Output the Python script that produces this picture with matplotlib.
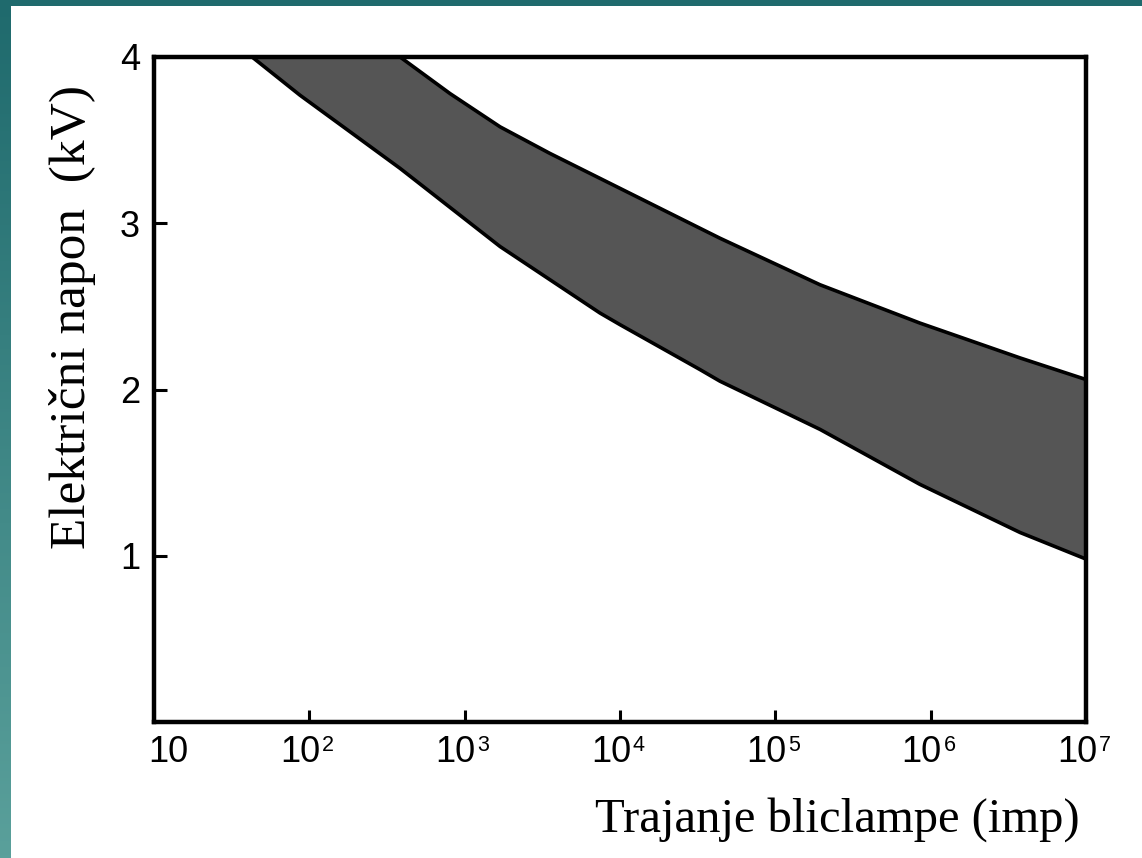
import numpy as np
import matplotlib
matplotlib.use('Agg')
import matplotlib.pyplot as plt
from matplotlib.patches import Rectangle
from matplotlib.colors import LinearSegmentedColormap
from matplotlib import font_manager
from matplotlib.ticker import NullLocator
from matplotlib.transforms import blended_transform_factory

# ---- data ----
upper_x = [3.84e2, 8.05e2, 1.69e3, 3.54e3, 7.43e3, 3.27e4, 4.40e4, 1.94e5, 8.50e5, 3.76e6, 1.0e7]
upper_y = [4.00, 3.78, 3.58, 3.42, 3.27, 2.97, 2.91, 2.63, 2.40, 2.19, 2.06]
lower_x = [4.28e1, 8.71e1, 1.83e2, 3.84e2, 1.69e3, 7.43e3, 1.0e4, 3.27e4, 4.40e4, 1.94e5, 8.50e5, 3.76e6, 1.0e7]
lower_y = [4.00, 3.77, 3.55, 3.33, 2.86, 2.46, 2.39, 2.12, 2.05, 1.76, 1.43, 1.14, 0.98]

xtick_vals = [1e1, 1e2, 1e3, 1e4, 1e5, 1e6, 1e7]
xtick_exps = [1, 2, 3, 4, 5, 6, 7]
ytick_vals = [1, 2, 3, 4]
ytick_labels = ['1', '2', '3', '4']

xlabel = 'Trajanje bliclampe (imp)'
ylabel = 'Električni napon  (kV)'

W, H = 1142, 858
fig = plt.figure(figsize=(W / 100, H / 100), dpi=100)

# teal background with white page
bg = fig.add_axes([0, 0, 1, 1], zorder=-10)
cmap = LinearSegmentedColormap.from_list('teal', ['#5aa09b', '#1f6a6d'])
grad = np.linspace(0, 1, 256).reshape(-1, 1)
bg.imshow(grad, cmap=cmap, aspect='auto', extent=[0, 1, 0, 1], origin='lower')
bg.add_patch(Rectangle((11 / W, 0), 1, 1 - 6 / H, transform=bg.transAxes,
                       facecolor='white', edgecolor='none'))
bg.set_xlim(0, 1)
bg.set_ylim(0, 1)
bg.axis('off')

names = {f.name for f in font_manager.fontManager.ttflist}
narrow = 'Liberation Sans Narrow' in names
tick_family = 'Liberation Sans Narrow' if narrow else 'Liberation Sans'
tick_size = 28 if narrow else 26
exp_size = 16 if narrow else 15.5

ax = fig.add_axes([154 / W, 1 - 722 / H, (1086 - 154) / W, (722 - 57) / H])
ax.set_xscale('log')
ax.set_xlim(1e1, 1e7)
ax.set_ylim(0, 4)

poly_x = upper_x + lower_x[::-1]
poly_y = upper_y + lower_y[::-1]
ax.fill(poly_x, poly_y, facecolor='#555555', edgecolor='none', zorder=1)
ax.plot(upper_x, upper_y, color='black', lw=2.6, zorder=2, solid_joinstyle='round')
ax.plot(lower_x, lower_y, color='black', lw=2.6, zorder=2, solid_joinstyle='round')

for s in ax.spines.values():
    s.set_linewidth(3.2)
    s.set_color('black')

ax.set_xticks(xtick_vals)
ax.set_xticklabels([''] * len(xtick_vals))
ax.xaxis.set_minor_locator(NullLocator())
ax.set_yticks(ytick_vals)
ax.set_yticklabels(ytick_labels, family=tick_family, fontsize=tick_size)
ax.tick_params(direction='in', length=9, width=2.2, top=False, right=False, pad=10)

trans = blended_transform_factory(ax.transData, ax.transAxes)
for v, e in zip(xtick_vals, xtick_exps):
    if e == 1:
        ax.annotate('10', xy=(v, 0), xycoords=trans, xytext=(-4.0, -9.5),
                    textcoords='offset points', ha='left', va='top',
                    family=tick_family, fontsize=tick_size)
    else:
        ax.annotate('10', xy=(v, 0), xycoords=trans, xytext=(8.0, -9.5),
                    textcoords='offset points', ha='right', va='top',
                    family=tick_family, fontsize=tick_size)
        ax.annotate(str(e), xy=(v, 0), xycoords=trans, xytext=(9.2, -9.5),
                    textcoords='offset points', ha='left', va='top',
                    family=tick_family, fontsize=exp_size)

fig.text(85 / W, 1 - 316.5 / H, ylabel, rotation=90, rotation_mode='anchor',
         ha='center', va='baseline', family='Liberation Serif', fontsize=37)
fig.text(1080 / W, 1 - 832 / H, xlabel, ha='right', va='baseline',
         family='Liberation Serif', fontsize=35)

fig.savefig('out.png', dpi=100)
